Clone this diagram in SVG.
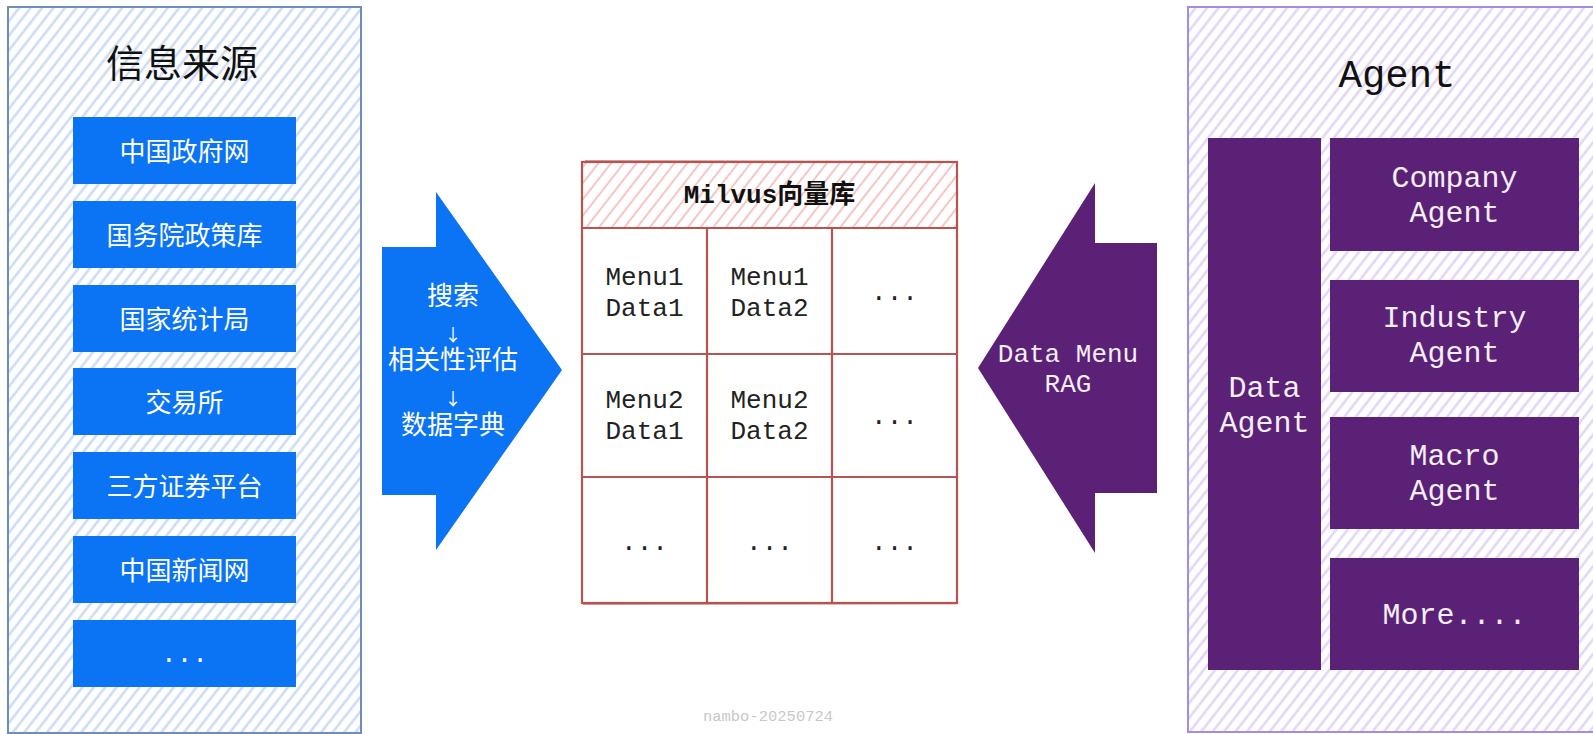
<svg xmlns="http://www.w3.org/2000/svg" width="1593" height="734" viewBox="0 0 1593 734">
<style>
.cjk{font-family:"Noto Sans CJK SC","Noto Sans",sans-serif;}
.mono{font-family:"Liberation Mono","DejaVu Sans Mono","Noto Sans CJK SC",monospace;}
.src rect{fill:#0b74f5;}
.src text{fill:#ffffff;font-size:26px;text-anchor:middle;}
.agent rect{fill:#5b2177;}
.agent text{fill:#f4eef6;font-size:30px;text-anchor:middle;}
.cell{fill:#222;font-size:26px;text-anchor:middle;}
.grid{stroke:#b85450;stroke-width:2.2;fill:none;}
</style>
<defs>
<pattern id="hBlue" patternUnits="userSpaceOnUse" width="9" height="9" patternTransform="rotate(38)">
<rect width="9" height="9" fill="#ffffff"/>
<line x1="2" y1="0" x2="2" y2="9" stroke="#cddcf3" stroke-width="2.6"/>
</pattern>
<pattern id="hPurple" patternUnits="userSpaceOnUse" width="9" height="9" patternTransform="rotate(38)">
<rect width="9" height="9" fill="#ffffff"/>
<line x1="2" y1="0" x2="2" y2="9" stroke="#e2d6f5" stroke-width="2.6"/>
</pattern>
<pattern id="hRed" patternUnits="userSpaceOnUse" width="10" height="10" patternTransform="rotate(38)">
<rect width="10" height="10" fill="#ffffff"/>
<line x1="2" y1="0" x2="2" y2="10" stroke="#f3b8b6" stroke-width="1.6"/>
</pattern>
</defs>

<g id="sources-panel">
<rect x="8" y="7" width="353" height="726" fill="url(#hBlue)" stroke="#6c8ebf" stroke-width="2"/>
<text class="cjk" x="182" y="77" font-size="38" text-anchor="middle" fill="#111">信息来源</text>
</g>
<g id="src-1" class="src"><rect x="73" y="117" width="223" height="67"/><text class="cjk" x="184.5" y="160.5">中国政府网</text></g>
<g id="src-2" class="src"><rect x="73" y="201" width="223" height="67"/><text class="cjk" x="184.5" y="244.5">国务院政策库</text></g>
<g id="src-3" class="src"><rect x="73" y="285" width="223" height="67"/><text class="cjk" x="184.5" y="328.5">国家统计局</text></g>
<g id="src-4" class="src"><rect x="73" y="368" width="223" height="67"/><text class="cjk" x="184.5" y="411.5">交易所</text></g>
<g id="src-5" class="src"><rect x="73" y="452" width="223" height="67"/><text class="cjk" x="184.5" y="495.5">三方证券平台</text></g>
<g id="src-6" class="src"><rect x="73" y="536" width="223" height="67"/><text class="cjk" x="184.5" y="579.5">中国新闻网</text></g>
<g id="src-7" class="src"><rect x="73" y="620" width="223" height="67"/><text class="mono" x="184.5" y="662">...</text></g>

<g id="connectors">
<g id="arrow-search">
<polygon points="382,247 436,247 436,192 562,370 436,550 436,495 382,495" fill="#0b74f5"/>
<g class="cjk" fill="#ffffff" font-size="26" text-anchor="middle">
<text x="453" y="305">搜索</text>
<text x="453" y="341" font-size="17">↓</text>
<text x="453" y="369">相关性评估</text>
<text x="453" y="405" font-size="17">↓</text>
<text x="453" y="434">数据字典</text>
</g>
</g>
<g id="arrow-rag">
<polygon points="1157,243 1095,243 1095,183 978,368 1095,553 1095,493 1157,493" fill="#5b2177"/>
<text class="mono" x="1068" y="362" font-size="26" fill="#f4eef6" text-anchor="middle">Data Menu</text>
<text class="mono" x="1068" y="392" font-size="26" fill="#f4eef6" text-anchor="middle">RAG</text>
</g>
</g>

<g id="milvus">
<rect x="582" y="162" width="375" height="66" fill="url(#hRed)"/>
<rect x="582" y="228" width="375" height="375" fill="#ffffff"/>
<rect class="grid" x="582" y="162" width="375" height="441"/>
<line class="grid" x1="582" y1="228" x2="957" y2="228"/>
<line class="grid" x1="582" y1="354" x2="957" y2="354"/>
<line class="grid" x1="582" y1="477" x2="957" y2="477"/>
<line class="grid" x1="707" y1="228" x2="707" y2="603"/>
<line class="grid" x1="832" y1="228" x2="832" y2="603"/>
<path d="M585,160.5 L955,161.5 M583,604.5 L956,603.8" stroke="#b85450" stroke-width="1" fill="none" opacity="0.6"/>
<text class="mono" x="769.5" y="203" font-size="26" font-weight="bold" text-anchor="middle" fill="#111">Milvus向量库</text>
<text class="mono cell" x="644.5" y="285">Menu1</text>
<text class="mono cell" x="644.5" y="316">Data1</text>
<text class="mono cell" x="769.5" y="285">Menu1</text>
<text class="mono cell" x="769.5" y="316">Data2</text>
<text class="mono cell" x="894.5" y="300">...</text>
<text class="mono cell" x="644.5" y="408">Menu2</text>
<text class="mono cell" x="644.5" y="439">Data1</text>
<text class="mono cell" x="769.5" y="408">Menu2</text>
<text class="mono cell" x="769.5" y="439">Data2</text>
<text class="mono cell" x="894.5" y="424">...</text>
<text class="mono cell" x="644.5" y="550">...</text>
<text class="mono cell" x="769.5" y="550">...</text>
<text class="mono cell" x="894.5" y="550">...</text>
</g>

<g id="agent-panel">
<rect x="1188" y="7" width="420" height="725" fill="url(#hPurple)" stroke="#a68be2" stroke-width="2"/>
<text class="mono" x="1397" y="87" font-size="39" text-anchor="middle" fill="#111">Agent</text>
</g>
<g id="data-agent" class="agent"><rect x="1208" y="138" width="113" height="532"/><text class="mono" x="1264.5" y="397">Data</text><text class="mono" x="1264.5" y="432">Agent</text></g>
<g id="company-agent" class="agent"><rect x="1330" y="138" width="249" height="113"/><text class="mono" x="1454.5" y="187">Company</text><text class="mono" x="1454.5" y="222">Agent</text></g>
<g id="industry-agent" class="agent"><rect x="1330" y="280" width="249" height="112"/><text class="mono" x="1454.5" y="327">Industry</text><text class="mono" x="1454.5" y="362">Agent</text></g>
<g id="macro-agent" class="agent"><rect x="1330" y="417" width="249" height="112"/><text class="mono" x="1454.5" y="465">Macro</text><text class="mono" x="1454.5" y="500">Agent</text></g>
<g id="more-agent" class="agent"><rect x="1330" y="558" width="249" height="112"/><text class="mono" x="1454.5" y="624">More....</text></g>

<text class="mono" x="768" y="721" font-size="15.5" text-anchor="middle" fill="#c8c8c8">nambo-20250724</text>
</svg>
